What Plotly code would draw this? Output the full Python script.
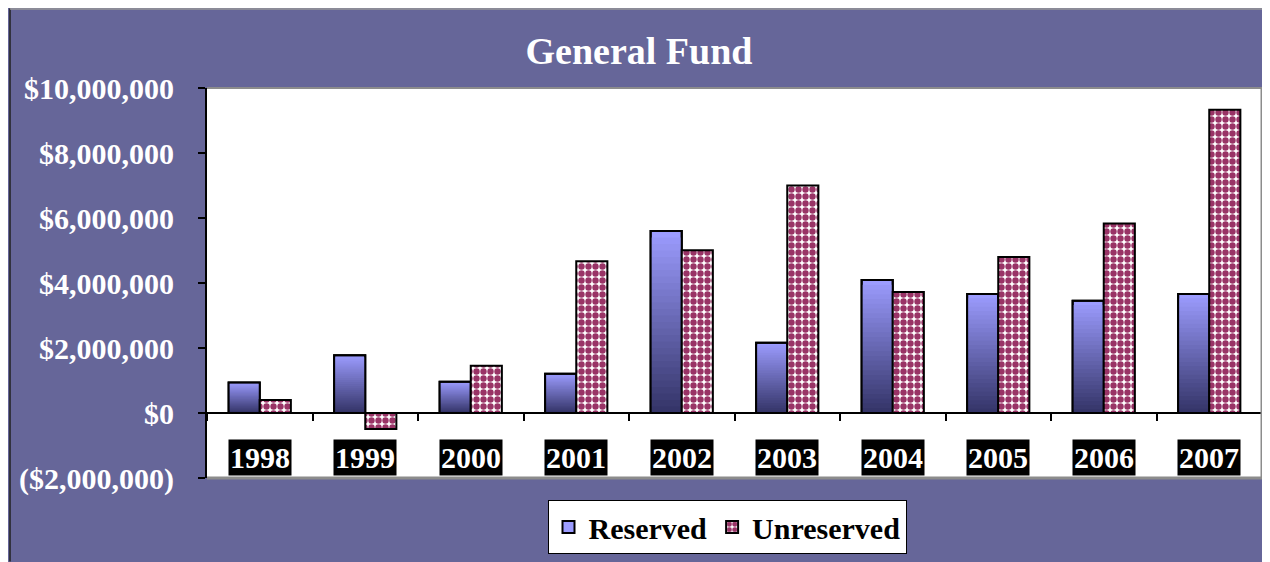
import plotly.graph_objects as go

# ---------------- data ----------------
years = ["1998", "1999", "2000", "2001", "2002", "2003", "2004", "2005", "2006", "2007"]
reserved = [0.94e6, 1.78e6, 0.96e6, 1.21e6, 5.60e6, 2.16e6, 4.09e6, 3.66e6, 3.45e6, 3.66e6]
unreserved = [0.40e6, -0.49e6, 1.45e6, 4.67e6, 5.01e6, 7.00e6, 3.72e6, 4.80e6, 5.83e6, 9.33e6]
ytick_vals = [-2e6, 0, 2e6, 4e6, 6e6, 8e6, 10e6]
ytick_text = ["($2,000,000)", "$0", "$2,000,000", "$4,000,000",
              "$6,000,000", "$8,000,000", "$10,000,000"]
series_names = ["Reserved", "Unreserved"]
title_text = "General Fund"

# ---------------- style ----------------
# page body has an 8px margin, so the figure is 1262 x 554
W, H = 1262, 554
L, R, T, B = 199, 8, 80, 82
PURPLE = "#666699"
FONT = "Liberation Serif, Times New Roman, serif"
LIGHT = (0x9C, 0x9C, 0xFF)
DARK = (0x33, 0x33, 0x66)
N = 28


def px_x(px):
    return (px - L) / (W - L - R)


def px_y(py):
    return (H - B - py) / (H - T - B)


def mix(t):
    c = [round(DARK[i] + (LIGHT[i] - DARK[i]) * t) for i in range(3)]
    return "rgb(%d,%d,%d)" % tuple(c)


fig = go.Figure()

# Reserved: gradient built from overlaid layers (tallest/lightest first)
for k in range(N):
    frac = (N - k) / N
    t = (N - k - 0.5) / N
    fig.add_trace(go.Bar(
        x=years, y=[v * frac for v in reserved],
        name=series_names[0], offsetgroup="res",
        marker=dict(color=mix(t) if k > 0 else mix(1.0),
                    line=dict(color="black", width=2 if k == 0 else 0)),
        showlegend=(k == 0), legendgroup="res", hoverinfo="skip",
    ))
# outline on top
fig.add_trace(go.Bar(
    x=years, y=reserved, name=series_names[0], offsetgroup="res",
    marker=dict(color="rgba(0,0,0,0)", line=dict(color="black", width=2)),
    showlegend=False, legendgroup="res",
))

fig.add_trace(go.Bar(
    x=years, y=unreserved, name=series_names[1], offsetgroup="unres",
    marker=dict(color="white", line=dict(color="black", width=2),
                pattern=dict(shape=".", fgcolor="#993366", bgcolor="white",
                             size=7, solidity=0.66, fillmode="replace")),
))

# category labels in black boxes
for i, yr in enumerate(years):
    fig.add_annotation(x=i, y=-1.38e6, xref="x", yref="y", text=yr,
                       showarrow=False, bgcolor="black", borderpad=1,
                       font=dict(family=FONT, size=30, color="white", weight="bold"))

shapes = [
    # frame lines
    dict(type="line", xref="paper", yref="paper", x0=px_x(2), x1=px_x(2),
         y0=px_y(0), y1=px_y(H + 2), line=dict(color="#222222", width=1.5)),
    dict(type="line", xref="paper", yref="paper", x0=px_x(2), x1=px_x(W + 2),
         y0=px_y(0.5), y1=px_y(0.5), line=dict(color="#999999", width=1.5)),
    # plot area shadow border (top, right, bottom)
    dict(type="line", xref="paper", yref="paper", x0=0, x1=1, y0=1, y1=1,
         line=dict(color="#8c8c8c", width=2)),
    dict(type="line", xref="paper", yref="paper", x0=1, x1=1, y0=0, y1=1,
         line=dict(color="#8c8c8c", width=3)),
    dict(type="line", xref="paper", yref="paper", x0=0, x1=1, y0=0, y1=0,
         line=dict(color="#8c8c8c", width=3)),
]

fig.update_layout(
    width=W, height=H,
    margin=dict(l=L, r=R, t=T, b=B, pad=0),
    paper_bgcolor=PURPLE, plot_bgcolor="white",
    barmode="group", bargap=0.41, bargroupgap=0,
    title=dict(text=title_text, x=0.5, xanchor="center", xref="container",
               y=1 - 43 / H, yanchor="middle", yref="container",
               font=dict(family=FONT, size=38, color="white", weight="bold")),
    font=dict(family=FONT),
    showlegend=True,
    legend=dict(orientation="h", x=px_x(719), xanchor="center",
                y=px_y(494), yanchor="top",
                bgcolor="white", bordercolor="black", borderwidth=1,
                font=dict(family=FONT, size=30, color="black", weight="bold"),
                traceorder="normal"),
    xaxis=dict(type="category", range=[-0.5, len(years) - 0.5],
               anchor="free", position=2 / 12,
               showline=True, linecolor="black", linewidth=2,
               ticks="outside", tickson="boundaries", ticklen=7,
               tickwidth=2, tickcolor="black", showticklabels=False,
               showgrid=False, zeroline=False, fixedrange=True),
    yaxis=dict(range=[-2e6, 10e6], tickvals=ytick_vals, ticktext=ytick_text,
               showline=True, linecolor="black", linewidth=2,
               ticks="outside", ticklen=7, tickwidth=1.5, tickcolor="black",
               ticklabelstandoff=18,
               tickfont=dict(family=FONT, size=30, color="white", weight="bold"),
               showgrid=False, zeroline=False, fixedrange=True),
    shapes=shapes,
)

fig.write_html("out.html")
